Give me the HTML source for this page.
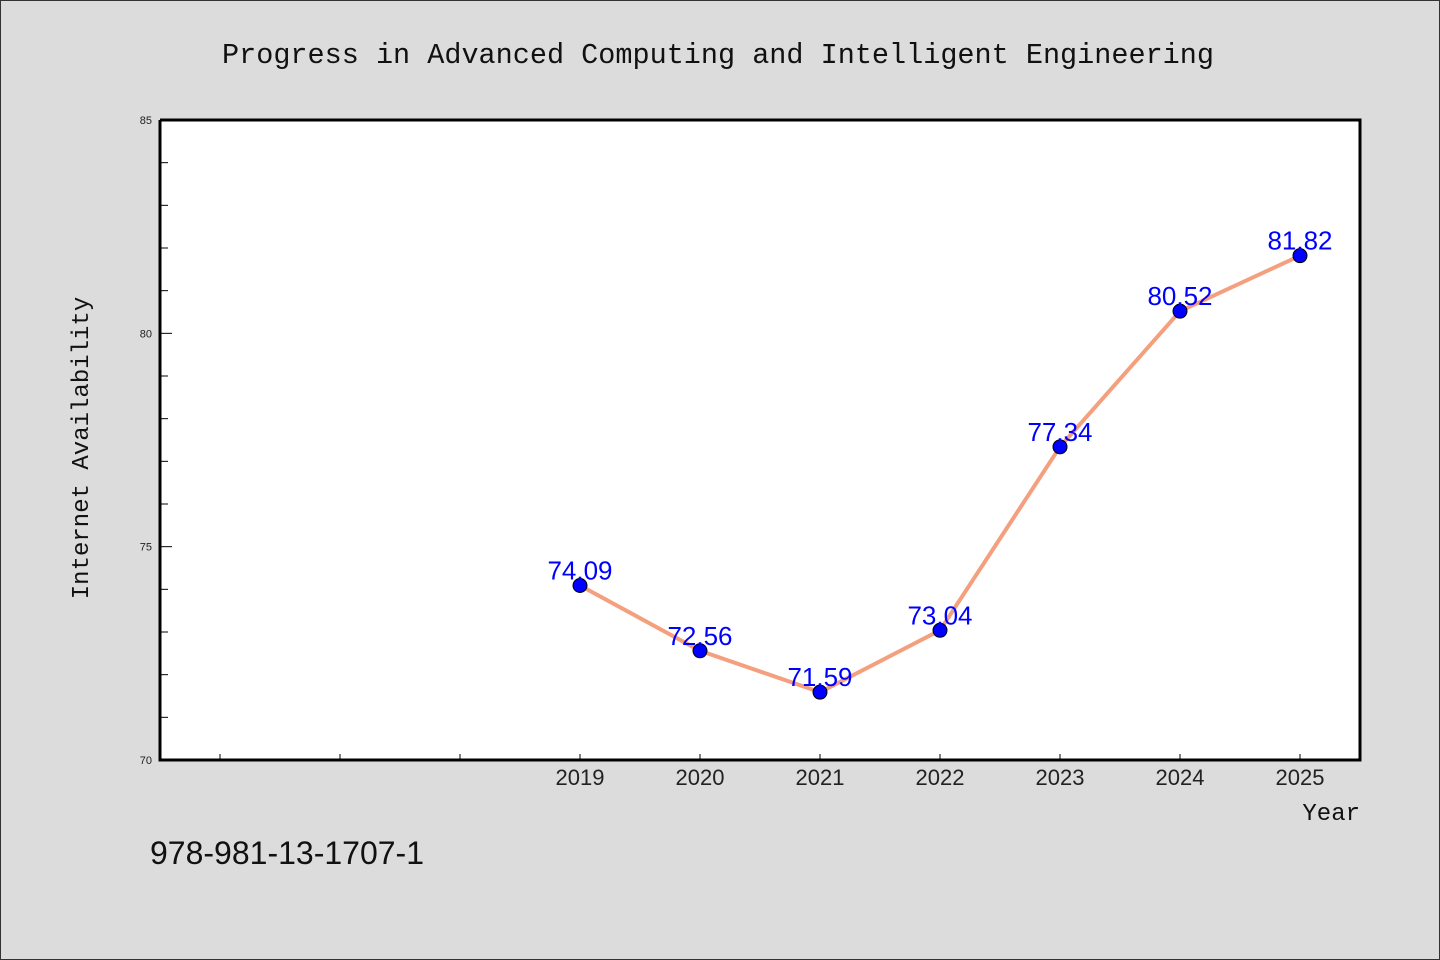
<!DOCTYPE html>
<html><head><meta charset="utf-8"><style>
html,body{margin:0;padding:0;background:#dcdcdc;}
svg{display:block;}
text{font-family:"WenQuanYi Zen Hei","Liberation Sans",sans-serif;}
</style></head><body>
<svg id="chart" width="1440" height="960">
<rect x="0.5" y="0.5" width="1439" height="959" fill="#dcdcdc" stroke="#333"/>
<text x="718" y="63" text-anchor="middle" font-size="28.5" style="font-family:'Liberation Mono',monospace" fill="#111">Progress in Advanced Computing and Intelligent Engineering</text>
<rect x="160" y="120" width="1200" height="640" fill="#fff"/>
<g id="axes"></g>
<g id="marks"></g>
<path d="M160,120 V760 H1360 V120 H160" fill="none" stroke="#000" stroke-width="3"/>
<text x="88" y="448" transform="rotate(-90 88 448)" text-anchor="middle" font-size="24" style="font-family:'Liberation Mono',monospace" fill="#111">Internet Availability</text>
<text x="1360" y="820" text-anchor="end" font-size="24" style="font-family:'Liberation Mono',monospace" fill="#111">Year</text>
<text x="150" y="864" font-size="32" fill="#111">978-981-13-1707-1</text>
</svg>
<script>
const years = [2019, 2020, 2021, 2022, 2023, 2024, 2025];
const values = [74.09, 72.56, 71.59, 73.04, 77.34, 80.52, 81.82];
const labels = ["74.09", "72.56", "71.59", "73.04", "77.34", "80.52", "81.82"];
const yTicks = [70, 75, 80, 85];
const xTickYears = [2016, 2017, 2018, 2019, 2020, 2021, 2022, 2023, 2024, 2025];

const NS = "http://www.w3.org/2000/svg";
const X = v => 160 + (v - 2015.5) * 120;
const Y = v => 760 - (v - 70) / 15 * 640;
function mk(tag, attrs, parent) {
  const e = document.createElementNS(NS, tag);
  for (const k in attrs) e.setAttribute(k, attrs[k]);
  parent.appendChild(e);
  return e;
}
const axes = document.getElementById('axes');
const marks = document.getElementById('marks');
for (let v = 70; v <= 85; v++) {
  const major = v % 5 === 0;
  const t = mk('line', {x1: 160, x2: 160 + (major ? 12 : 8), y1: Y(v), y2: Y(v), stroke: '#000', 'stroke-width': 1}, axes);
  
  
}
yTicks.forEach(v => {
  const t = mk('text', {x: 152, y: Y(v) + 4, 'text-anchor': 'end', 'font-size': 11, fill: '#222'}, axes);
  t.textContent = v;
  
  
});
xTickYears.forEach(yr => {
  const t = mk('line', {x1: X(yr), x2: X(yr), y1: 760, y2: 754, stroke: '#000', 'stroke-width': 1}, axes);
  
  
});
years.forEach(yr => {
  const t = mk('text', {x: X(yr), y: 785, 'text-anchor': 'middle', 'font-size': 22, fill: '#222'}, axes);
  t.textContent = yr;
  
  
});
const pts = years.map((yr, i) => X(yr) + ',' + Y(values[i])).join(' ');
const line = mk('polyline', {points: pts, fill: 'none', stroke: '#f4a07e', 'stroke-width': 4, 'stroke-linejoin': 'round'}, marks);


years.forEach((yr, i) => {
  const c = mk('circle', {cx: X(yr), cy: Y(values[i]), r: 7, fill: '#0000ff', stroke: '#000', 'stroke-width': 1}, marks);
  
  
});
years.forEach((yr, i) => {
  const t = mk('text', {x: X(yr), y: Y(values[i]) - 6, 'text-anchor': 'middle', 'font-size': 26, fill: '#0000ff'}, marks);
  t.textContent = labels[i];
  
  
});
</script>
</body></html>
